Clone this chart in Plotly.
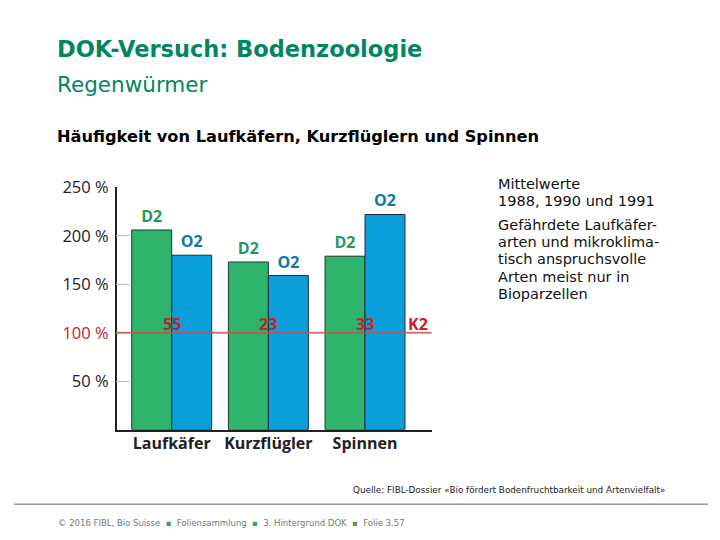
import plotly.graph_objects as go

categories = ["Laufkäfer", "Kurzflügler", "Spinnen"]
d2_values = [206, 173, 179]
o2_values = [180, 159, 222]
k2_counts = ["55", "23", "33"]
k2_level = 100
tick_vals = [50, 100, 150, 200, 250]
tick_text = ["50 %", "<span style='color:#c8202a'>100 %</span>", "150 %", "200 %", "250 %"]
side_note_1 = ["Mittelwerte", "1988, 1990 und 1991"]
side_note_2 = ["Gefährdete Laufkäfer-", "arten und mikroklima-", "tisch anspruchsvolle",
               "Arten meist nur in", "Bioparzellen"]

W, H = 720, 540
TOP_OFF = 10.0
def px(x):
    return x / W
def py(y):
    return 1 - (y - TOP_OFF) / (H - TOP_OFF)

green = "#2fb46e"
blue = "#0a9fdb"
red = "#c8202a"
title_green = "#00875f"
sans = "DejaVu Sans, Verdana, sans-serif"
chart_font = "Open Sans, sans-serif"

xpos = list(range(len(categories)))

fig = go.Figure()
fig.add_trace(go.Bar(
    x=xpos, y=d2_values, name="D2", marker=dict(color=green, line=dict(color="#1a3a2a", width=1)),
    text=["D2"] * 3, textposition="outside", cliponaxis=False,
    textfont=dict(family=chart_font, size=16, color="#1e9a5c", weight="bold"),
))
fig.add_trace(go.Bar(
    x=xpos, y=o2_values, name="O2", marker=dict(color=blue, line=dict(color="#1a2a3a", width=1)),
    text=["O2"] * 3, textposition="outside", cliponaxis=False,
    textfont=dict(family=chart_font, size=16, color="#0a78b8", weight="bold"),
))

x0_px, x1_px = 116.7, 431.7
cat_px = [171.7, 268.3, 365.0]
step = (cat_px[2] - cat_px[0]) / 2
xr = [(x0_px - cat_px[0]) / step, (x1_px - cat_px[0]) / step]

fig.update_layout(
    width=W, height=H, margin=dict(l=0, r=0, t=0, b=0),
    paper_bgcolor="white", plot_bgcolor="white", showlegend=False,
    barmode="group", bargap=0.173, bargroupgap=0,
    xaxis=dict(
        domain=[px(x0_px), px(x1_px)], range=xr,
        tickvals=xpos, ticktext=["<b>%s</b>" % c for c in categories],
        tickfont=dict(family=chart_font, size=16, color="#222"),
        showline=True, linecolor="#222", linewidth=1.5, ticks="", showgrid=False, zeroline=False,
        ticklabelstandoff=-2,
    ),
    yaxis=dict(
        domain=[py(429.3), py(186)], range=[0, 250],
        tickvals=tick_vals, ticktext=tick_text,
        tickfont=dict(family=chart_font, size=16.5, color="#222"),
        showline=True, linecolor="#222", linewidth=1.5,
        ticks="inside", ticklen=14, tickcolor="#bbbbbb", tickwidth=1,
        showgrid=False, zeroline=False, ticklabelstandoff=3,
    ),
)

fig.add_shape(type="line", xref="x domain", yref="y", x0=0, x1=1, y0=k2_level, y1=k2_level,
              line=dict(color="rgba(200,80,80,0.8)", width=2), layer="above")

for i, t in enumerate(k2_counts):
    fig.add_annotation(x=xpos[i], y=k2_level, text="<b>%s</b>" % t, showarrow=False,
                       yshift=9, font=dict(family=chart_font, size=16, color=red))
fig.add_annotation(x=(418.3 - cat_px[0]) / step, y=k2_level, text="<b>K2</b>", showarrow=False,
                   yshift=9, font=dict(family=chart_font, size=16, color=red))

# Titles
fig.add_annotation(xref="paper", yref="paper", x=px(55), y=py(47), xanchor="left", yanchor="middle",
                   text="<b>DOK-Versuch: Bodenzoologie</b>", showarrow=False,
                   font=dict(family=sans, size=22.5, color=title_green))
fig.add_annotation(xref="paper", yref="paper", x=px(55), y=py(83), xanchor="left", yanchor="middle",
                   text="Regenwürmer", showarrow=False,
                   font=dict(family=sans, size=21.5, color=title_green))
fig.add_annotation(xref="paper", yref="paper", x=px(55), y=py(135), xanchor="left", yanchor="middle",
                   text="<b>Häufigkeit von Laufkäfern, Kurzflüglern und Spinnen</b>", showarrow=False,
                   font=dict(family=sans, size=16.2, color="#000"))

# Side notes, one line per annotation
for i, line in enumerate(side_note_1):
    fig.add_annotation(xref="paper", yref="paper", x=px(496), y=py(183 + 17.2 * i),
                       xanchor="left", yanchor="middle", showarrow=False, text=line,
                       font=dict(family=sans, size=14.5, color="#111"))
for i, line in enumerate(side_note_2):
    fig.add_annotation(xref="paper", yref="paper", x=px(496), y=py(224 + 17.2 * i),
                       xanchor="left", yanchor="middle", showarrow=False, text=line,
                       font=dict(family=sans, size=14.5, color="#111"))

# Source and footer
fig.add_annotation(xref="paper", yref="paper", x=px(351), y=py(490), xanchor="left", yanchor="middle",
                   showarrow=False,
                   text="Quelle: FIBL-Dossier «Bio fördert Bodenfruchtbarkeit und Artenvielfalt»",
                   font=dict(family=sans, size=8.8, color="#222"))
fig.add_shape(type="line", xref="paper", yref="paper", x0=px(14), x1=px(708), y0=py(504), y1=py(504),
              line=dict(color="#666", width=1))
bullet = "  <span style='color:#3aa66a'>▪</span>  "
fig.add_annotation(xref="paper", yref="paper", x=px(56), y=py(523), xanchor="left", yanchor="middle",
                   showarrow=False,
                   text="© 2016 FIBL, Bio Suisse" + bullet + "Foliensammlung" + bullet + "3. Hintergrund DOK" + bullet + "Folie 3.57",
                   font=dict(family=sans, size=8.5, color="#777"))

fig.write_html("out.html")
